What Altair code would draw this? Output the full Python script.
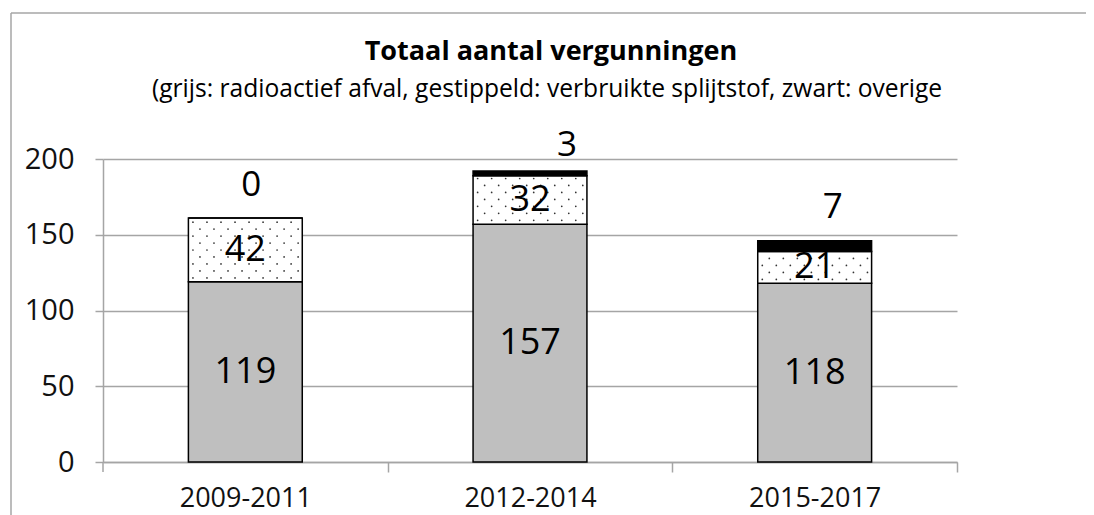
import altair as alt
import pandas as pd

# ---- data ----
periodes = ["2009-2011", "2012-2014", "2015-2017"]
radioactief_afval = [119, 157, 118]
verbruikte_splijtstof = [42, 32, 21]
overige = [0, 3, 7]
segmenten = ["radioactief afval", "verbruikte splijtstof", "overige"]
y_ticks = [0, 50, 100, 150, 200]
titel = "Totaal aantal vergunningen"
ondertitel = "(grijs: radioactief afval, gestippeld: verbruikte splijtstof, zwart: overige"

rows = []
for i, p in enumerate(periodes):
    for k, (seg, vals) in enumerate(zip(segmenten, [radioactief_afval, verbruikte_splijtstof, overige])):
        rows.append({"periode": p, "segment": seg, "waarde": vals[i], "volgorde": k})
df = pd.DataFrame(rows)

# texture dots for the "gestippeld" segment (pure decoration, placed through the scales)
dots = []
step_y = 4.6
for i, p in enumerate(periodes):
    base_v = radioactief_afval[i]
    top_v = base_v + verbruikte_splijtstof[i]
    k = 0
    y = base_v + 0.55 * step_y
    while y < top_v - 0.3 * step_y:
        x = 0.04 + (k % 2) * 0.0615
        while x < 0.97:
            dots.append({"periode": p, "yd": y, "xo": x})
            x += 0.123
        y += step_y
        k += 1
dots_df = pd.DataFrame(dots)

FONT = "Open Sans"
GRID = "#a5a5a5"
HALF_STEP = 142.3

x_axis = alt.Axis(
    title=None, labelAngle=0, labelFont=FONT, labelFontSize=27, labelColor="#111111",
    domainColor=GRID, domainWidth=1.5, tickColor=GRID, tickWidth=1.5, tickSize=10,
    tickOffset=HALF_STEP, labelOffset=-HALF_STEP, labelPadding=13, grid=False,
)
x_scale = alt.Scale(paddingInner=0.6, paddingOuter=0.3)
y_axis = alt.Axis(
    title=None, values=y_ticks, labelFont=FONT, labelFontSize=29, labelColor="#111111",
    grid=True, gridColor=GRID, gridWidth=1.5, domainColor=GRID, domainWidth=1.5,
    tickColor=GRID, tickWidth=1.5, tickSize=8, labelPadding=21,
)
y_scale = alt.Scale(domain=[0, 200])


def xe():
    return alt.X("periode:N", sort=periodes, scale=x_scale, axis=x_axis)


def ye(field):
    return alt.Y(field, scale=y_scale, axis=y_axis)


base = alt.Chart(df).transform_stack(
    stack="waarde", as_=["y0", "y1"], groupby=["periode"],
    sort=[alt.SortField("volgorde", order="ascending")],
)

bars = base.mark_bar(stroke="black", strokeWidth=1.5, width=alt.RelativeBandSize(1.0)).encode(
    x=xe(),
    y=ye("y0:Q"),
    y2="y1",
    fill=alt.Fill(
        "segment:N",
        scale=alt.Scale(domain=segmenten, range=["#bfbfbf", "#ffffff", "#000000"]),
        legend=None,
    ),
)

dot_layer = alt.Chart(dots_df).mark_circle(size=3, color="#333333", opacity=1).encode(
    x=xe(),
    xOffset=alt.XOffset("xo:Q", scale=alt.Scale(domain=[0, 1], range=[0, 114])),
    y=ye("yd:Q"),
)

inner_labels = base.transform_filter("datum.volgorde < 2").transform_calculate(
    mid="(datum.y0 + datum.y1) / 2"
).mark_text(font=FONT, fontSize=36, color="#000000", baseline="middle").encode(
    x=xe(),
    y=ye("mid:Q"),
    text="waarde:Q",
)

top_layers = []
for p, dx, dy in zip(periodes, [6, 37, 18], [-33, -26, -34]):
    top_layers.append(
        base.transform_filter("datum.volgorde == 2").transform_filter(
            alt.datum.periode == p
        ).mark_text(font=FONT, fontSize=35, color="#000000", baseline="middle", dy=dy, dx=dx).encode(
            x=xe(),
            y=ye("y1:Q"),
            text="waarde:Q",
        )
    )

one = pd.DataFrame({"titel": [titel], "ondertitel": [ondertitel]})
frame_v = alt.Chart(one).mark_rule(color="#a6a6a6", strokeWidth=1.5).encode(
    x=alt.value(-92), y=alt.value(-146), y2=alt.value(400)
)
frame_h = alt.Chart(one).mark_rule(color="#a6a6a6", strokeWidth=1.5).encode(
    x=alt.value(-92), x2=alt.value(1000), y=alt.value(-146)
)
# first x-axis tick at the origin (below the y-axis line)
first_tick = alt.Chart(one).mark_rule(color=GRID, strokeWidth=1.5).encode(
    x=alt.value(0), y=alt.value(303), y2=alt.value(313)
)
title_mark = alt.Chart(one).mark_text(
    font=FONT, fontSize=27, fontWeight="bold", color="#000000", align="center", baseline="alphabetic"
).encode(x=alt.value(448), y=alt.value(-99), text="titel:N")
subtitle_mark = alt.Chart(one).mark_text(
    font=FONT, fontSize=24.6, color="#000000", align="center", baseline="alphabetic"
).encode(x=alt.value(444), y=alt.value(-62), text="ondertitel:N")

chart = alt.layer(
    bars, dot_layer, inner_labels, *top_layers, frame_v, frame_h, first_tick, title_mark, subtitle_mark
).resolve_scale(
    xOffset="independent"
).properties(
    width=854,
    height=303,
    autosize=alt.AutoSizeParams(type="none"),
    padding={"left": 95, "top": 151, "right": 129, "bottom": 53},
).configure_view(stroke=None)

chart.save("out.html", embed_options={"renderer": "svg", "actions": False})
